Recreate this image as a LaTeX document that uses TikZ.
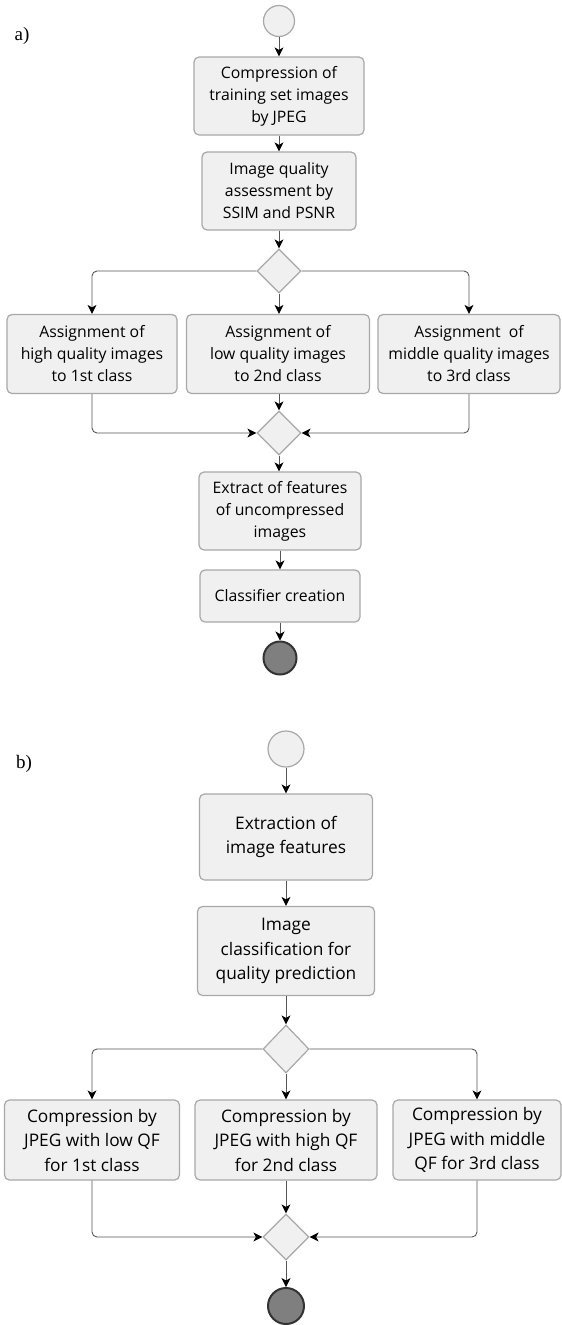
\documentclass[tikz,border=0pt]{standalone}
\usepackage{fontspec}
\setmainfont{Open Sans}
\newfontfamily\labelfont{Liberation Serif}
\usetikzlibrary{shapes.geometric,arrows.meta}
\definecolor{boxfill}{HTML}{F0F0F0}
\definecolor{boxdraw}{HTML}{A8A8A8}
\definecolor{linec}{HTML}{555555}
\definecolor{endfill}{HTML}{7F7F7F}
\definecolor{enddraw}{HTML}{333333}
\begin{document}
\begin{tikzpicture}[x=1pt,y=-1pt,
  act/.style={draw=boxdraw, fill=boxfill, line width=1.2pt, rounded corners=5pt, align=center, inner sep=0pt, font=\fontsize{15.8}{22}\selectfont},
  actb/.style={act, font=\fontsize{17.3}{24.5}\selectfont},
  dec/.style={draw=boxdraw, fill=boxfill, line width=1.2pt, diamond, inner sep=0pt, minimum width=44pt, minimum height=44pt},
  startn/.style={draw=boxdraw, fill=boxfill, line width=1.2pt, circle, inner sep=0pt, minimum size=31pt},
  endn/.style={draw=enddraw, fill=endfill, line width=2pt, circle, inner sep=0pt, minimum size=33pt},
  arr/.style={draw=linec, line width=0.9pt, rounded corners=5pt, -{Stealth[length=9pt,width=9pt,inset=2.5pt,color=black]}},
  lbl/.style={font=\labelfont\fontsize{19}{19}\selectfont, inner sep=0pt}
]
\useasboundingbox (0,0) rectangle (562,1325);
% ---------- a) ----------
\node[lbl] (la) at (22,36) {a)};
\node[startn] (s1) at (279,21) {};
\node[act, minimum width=170pt, minimum height=78pt] (a1) at (279,96) {Compression of\\training set images\\by JPEG};
\node[act, minimum width=154pt, minimum height=78pt] (a2) at (279,191) {Image quality\\assessment by\\SSIM and PSNR};
\node[dec] (d1) at (279,271) {};
\node[act, minimum width=170pt, minimum height=79pt] (c1) at (92,354) {Assignment of\\high quality images\\to 1st class};
\node[act, minimum width=183pt, minimum height=79pt] (c2) at (278,354) {Assignment of\\low quality images\\to 2nd class};
\node[act, minimum width=182pt, minimum height=79pt] (c3) at (469,354) {Assignment\ \ of\\middle quality images\\to 3rd class};
\node[dec] (m1) at (279,433) {};
\node[act, minimum width=162pt, minimum height=78pt] (e1) at (280,511) {Extract of features\\of uncompressed\\images};
\node[act, minimum width=160pt, minimum height=52pt] (f1) at (280,596) {Classifier creation};
\node[endn] (t1) at (280,658) {};
\draw[arr] (s1) -- (a1);
\draw[arr] (a1) -- (a2);
\draw[arr] (a2) -- (d1);
\draw[arr] (d1.west) -| (c1.north);
\draw[arr] (d1.south) -- (c2.north -| d1.south);
\draw[arr] (d1.east) -| (c3.north);
\draw[arr] (c1.south) |- (m1.west);
\draw[arr] (c2.south -| m1.north) -- (m1.north);
\draw[arr] (c3.south) |- (m1.east);
\draw[arr] (m1.south) -- (e1.north -| m1.south);
\draw[arr] (e1) -- (f1);
\draw[arr] (f1) -- (t1);
% ---------- b) ----------
\node[lbl] (lb) at (24,764) {b)};
\node[startn, minimum size=36pt] (s2) at (286,749) {};
\node[actb, minimum width=173pt, minimum height=86pt] (b1) at (286,837) {Extraction of\\image features};
\node[actb, minimum width=177pt, minimum height=89pt] (b2) at (286,951) {Image\\classification for\\quality prediction};
\node[dec, minimum width=46pt, minimum height=48pt] (d2) at (286,1049) {};
\node[actb, minimum width=175pt, minimum height=80pt] (g1) at (92,1140) {Compression by\\JPEG with low QF\\for 1st class};
\node[actb, minimum width=182pt, minimum height=80pt] (g2) at (286,1140) {Compression by\\JPEG with high QF\\for 2nd class};
\node[actb, minimum width=168pt, minimum height=80pt] (g3) at (477,1140) {Compression by\\JPEG with middle\\QF for 3rd class};
\node[dec, minimum width=46pt, minimum height=46pt] (m2) at (286,1237) {};
\node[endn, minimum size=36pt] (t2) at (286,1306) {};
\draw[arr] (s2) -- (b1);
\draw[arr] (b1) -- (b2);
\draw[arr] (b2) -- (d2);
\draw[arr] (d2.west) -| (g1.north);
\draw[arr] (d2) -- (g2);
\draw[arr] (d2.east) -| (g3.north);
\draw[arr] (g1.south) |- (m2.west);
\draw[arr] (g2) -- (m2);
\draw[arr] (g3.south) |- (m2.east);
\draw[arr] (m2) -- (t2);
\end{tikzpicture}
\end{document}
